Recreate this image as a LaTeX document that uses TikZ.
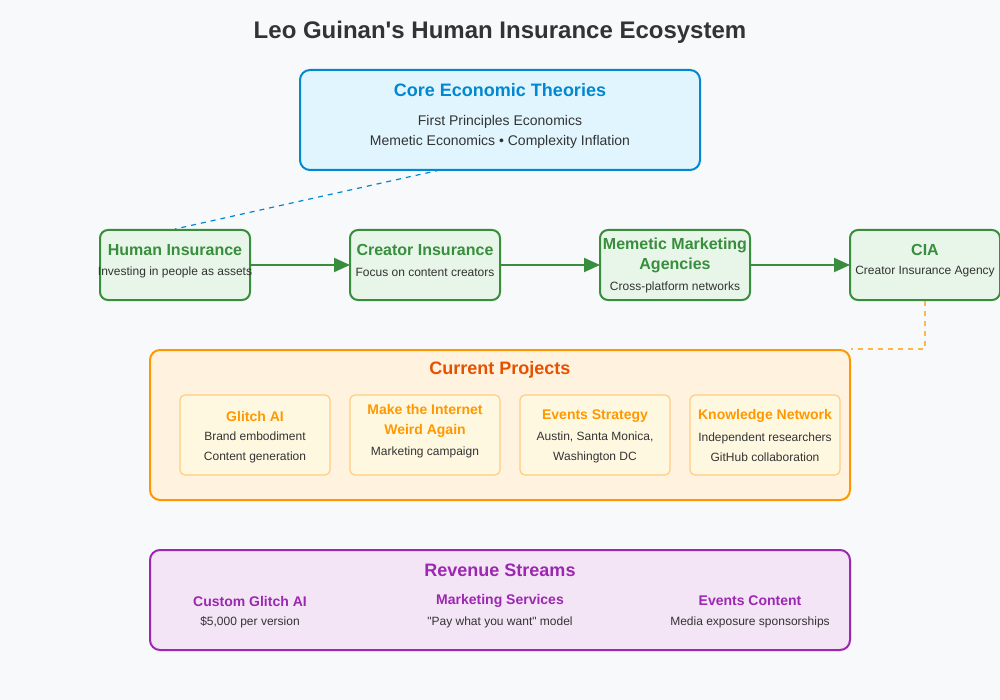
\documentclass[tikz,border=0pt]{standalone}
\usepackage{fontspec}
\setmainfont[Ligatures=TeXOff]{Liberation Sans}
\usepackage{tikz}
\usetikzlibrary{arrows.meta}

\definecolor{bgcol}{HTML}{F8F9FA}
\definecolor{txtcol}{HTML}{333333}
\definecolor{coreline}{HTML}{0288D1}
\definecolor{corefill}{HTML}{E1F5FE}
\definecolor{greenline}{HTML}{388E3C}
\definecolor{greenfill}{HTML}{E8F5E9}
\definecolor{projline}{HTML}{FF9800}
\definecolor{projfill}{HTML}{FFF3E0}
\definecolor{projhead}{HTML}{E65100}
\definecolor{subline}{HTML}{FFCC80}
\definecolor{subfill}{HTML}{FFF8E1}
\definecolor{dashorange}{HTML}{FFB74D}
\definecolor{revline}{HTML}{9C27B0}
\definecolor{revfill}{HTML}{F3E5F5}

\begin{document}
\begin{tikzpicture}[x=1pt, y=-1pt,
    box/.style={rectangle, rounded corners=10pt, line width=2pt, inner sep=0pt},
    smallbox/.style={rectangle, rounded corners=5pt, line width=1.2pt, inner sep=0pt,
      draw=subline, fill=subfill, minimum width=150pt, minimum height=80pt},
    stage/.style={box, rounded corners=8pt, draw=greenline, fill=greenfill,
      minimum width=150pt, minimum height=70pt},
    head/.style={font=\fontsize{18}{21}\selectfont\bfseries},
    stagehead/.style={font=\fontsize{16}{20}\selectfont\bfseries, text=greenline, align=center},
    subhead/.style={font=\fontsize{14}{20}\selectfont\bfseries, text=projline, align=center},
    body/.style={font=\fontsize{12}{20}\selectfont, text=txtcol, align=center},
    flow/.style={-{Triangle[length=16pt, width=14pt]}, line width=2pt, greenline, shorten >=-1pt}]
    % background and page size
    \fill[bgcol] (0,0) rectangle (1000,700);
    \useasboundingbox (0,0) rectangle (1000,700);

    \node (title) at (500,32) [font=\fontsize{24}{28}\selectfont\bfseries, text=txtcol] {Leo Guinan's Human Insurance Ecosystem};

    % Core economic theories
    \node (core) at (500,120) [box, draw=coreline, fill=corefill, minimum width=400pt, minimum height=100pt] {};
    \node (corehead) at (500,90) [head, text=coreline] {Core Economic Theories};
    \node (coretext) at (500,132) [font=\fontsize{14}{20}\selectfont, text=txtcol, align=center] {First Principles Economics\\Memetic Economics • Complexity Inflation};

    % Insurance chain
    \node (human) at (175,265) [stage] {};
    \node (creator) at (425,265) [stage] {};
    \node (memetic) at (675,265) [stage] {};
    \node (cia) at (925,265) [stage] {};
    \node (humanhead) at (175,250) [stagehead] {Human Insurance};
    \node (humantext) at (175,272) [body] {Investing in people as assets};
    \node (creatorhead) at (425,250) [stagehead] {Creator Insurance};
    \node (creatortext) at (425,272) [body] {Focus on content creators};
    \node (memetichead) at (675,255) [stagehead] {Memetic Marketing\\Agencies};
    \node (memetictext) at (675,287) [body] {Cross-platform networks};
    \node (ciahead) at (925,250) [stagehead] {CIA};
    \node (ciatext) at (925,272) [body] {Creator Insurance Agency};

    \draw [flow] (human) -- (creator);
    \draw [flow] (creator) -- (memetic);
    \draw [flow] (memetic) -- (cia);

    \coordinate (coreout) at (440,170);
    \draw [coreline, dash pattern=on 5pt off 5pt, line width=1.2pt] (coreout) -- (human.north);

    % Current projects
    \node (projects) at (500,425) [box, draw=projline, fill=projfill, minimum width=700pt, minimum height=150pt] {};
    \node (projhead) at (500,370) [head, text=projhead] {Current Projects};
    \draw [dashorange, dash pattern=on 5pt off 5pt, line width=1.5pt] (cia.south) |- (projects.north east);

    \node (glitch) at (255,435) [smallbox] {};
    \node (weird) at (425,435) [smallbox] {};
    \node (events) at (595,435) [smallbox] {};
    \node (knowledge) at (765,435) [smallbox] {};
    \node (glitchhead) at (255,416) [subhead] {Glitch AI};
    \node (glitchtext) at (255,447) [body] {Brand embodiment\\Content generation};
    \node (weirdhead) at (425,421) [subhead] {Make the Internet\\Weird Again};
    \node (weirdtext) at (425,452) [body] {Marketing campaign};
    \node (eventshead) at (595,416) [subhead] {Events Strategy};
    \node (eventstext) at (595,447) [body] {Austin, Santa Monica,\\Washington DC};
    \node (knowledgehead) at (765,416) [subhead] {Knowledge Network};
    \node (knowledgetext) at (765,447) [body] {Independent researchers\\GitHub collaboration};

    % Revenue streams
    \node (revenue) at (500,600) [box, draw=revline, fill=revfill, minimum width=700pt, minimum height=100pt] {};
    \node (revhead) at (500,570) [head, text=revline] {Revenue Streams};
    \node (customhead) at (250,601) [subhead, text=revline] {Custom Glitch AI};
    \node (customtext) at (250,622) [body] {\$5,000 per version};
    \node (serviceshead) at (500,601) [subhead, text=revline] {Marketing Services};
    \node (servicestext) at (500,622) [body] {"Pay what you want" model};
    \node (contenthead) at (750,601) [subhead, text=revline] {Events Content};
    \node (contenttext) at (750,622) [body] {Media exposure sponsorships};
\end{tikzpicture}
\end{document}
